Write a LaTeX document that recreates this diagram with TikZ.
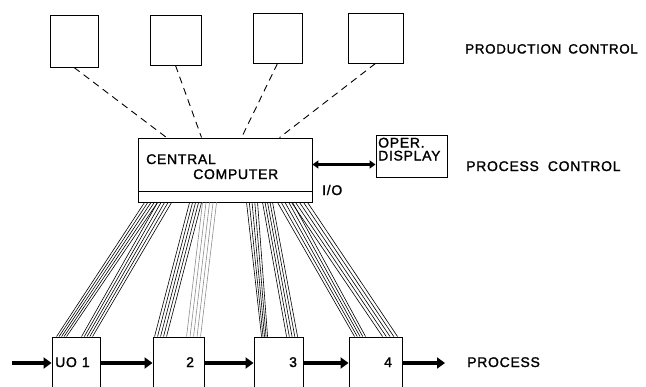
\documentclass[tikz,border=0pt]{standalone}
\usepackage{fontspec}
\setmainfont{Liberation Sans}[FakeBold=1.4,LetterSpace=5]
\usetikzlibrary{arrows.meta,calc}
\newcommand\wirebundle[6][black]{%
  \foreach \i in {0,...,4}{%
    \draw[wire,#1] ($(io.south west)+({#3+\i*(#4-#3)/4},0)$) -- ($(#2.north west)+({#5+\i*(#6-#5)/4},0)$);
  }%
}
\begin{document}
\begin{tikzpicture}[x=1pt,y=-1pt,
  box/.style={draw,line width=0.9pt,inner sep=0pt,fill=white},
  lbl/.style={anchor=west,inner sep=0pt,text height=10pt,text depth=0pt,font=\fontsize{14}{16}\selectfont},
  flow/.style={line width=3.5pt,-{Triangle[length=8pt,width=11pt]}},
  dbl/.style={line width=2.5pt,{Triangle[length=6pt,width=8pt]}-{Triangle[length=6pt,width=8pt]}},
  dsh/.style={line width=0.9pt,dash pattern=on 7pt off 5pt},
  wire/.style={line width=0.6pt}]
\useasboundingbox (0,0) rectangle (646,386);
\clip (0,0) rectangle (646,386);

% production control terminals
\node[box,minimum width=48pt,minimum height=52pt] (p1) at (74,41) {};
\node[box,minimum width=51pt,minimum height=50pt] (p2) at (175.5,40) {};
\node[box,minimum width=49pt,minimum height=50pt] (p3) at (277.5,38) {};
\node[box,minimum width=55pt,minimum height=50pt] (p4) at (375.5,38) {};

% central computer
\node[box,minimum width=174pt,minimum height=53pt] (comp) at (225,164.5) {};
\node[box,minimum width=174pt,minimum height=11pt] (io) at (225,196.5) {};
\node[box,minimum width=71pt,minimum height=42pt] (disp) at (411.5,156) {};

% process units
\node[box,minimum width=48pt,minimum height=52pt] (u1) at (76,363) {};
\node[box,minimum width=51pt,minimum height=52pt] (u2) at (178.5,363) {};
\node[box,minimum width=49pt,minimum height=52pt] (u3) at (278.5,363) {};
\node[box,minimum width=53pt,minimum height=52pt] (u4) at (375.5,363) {};

% dashed links
\draw[dsh] (p1.south) -- ($(comp.north west)+(29,0)$);
\draw[dsh] (p2.south) -- ($(comp.north west)+(64,0)$);
\draw[dsh] (p3.south) -- ($(comp.north west)+(104,0)$);
\draw[dsh] (p4.south) -- ($(comp.north west)+(142,0)$);

% wire bundles
\wirebundle{u1}{7}{20}{5}{15}
\wirebundle{u1}{20}{34}{30}{41}
\wirebundle{u2}{52}{64}{2}{14}
\wirebundle[black!45]{u2}{65}{79}{34}{48}
\wirebundle{u3}{109}{120}{8}{14}
\wirebundle{u3}{125}{135}{33}{44}
\wirebundle{u4}{140}{155}{6}{17}
\wirebundle{u4}{154}{170}{34}{49}

% operator display link
\draw[dbl] (comp.east) -- (comp.east -| disp.west);

% process flow
\coordinate (in) at (12,363);
\coordinate (out) at (445,363);
\draw[flow] (in) -- (u1.west);
\draw[flow] (u1.east) -- (u2.west);
\draw[flow] (u2.east) -- (u3.west);
\draw[flow] (u3.east) -- (u4.west);
\draw[flow] (u4.east) -- (out);

% texts
\node[lbl] (t1) at (146,159) {CENTRAL};
\node[lbl] (t2) at (193,174) {COMPUTER};
\node[lbl] (tio) at (322,190) {I/O};
\node[lbl] (to) at (378,142.5) {OPER.};
\node[lbl] (td) at (378,155.5) {DISPLAY};
\node[lbl,font=\fontsize{13.4}{16}\selectfont] (l1) at (465,48.5) {PRODUCTION\hspace{7pt}CONTROL};
\node[lbl] (l2) at (466,166) {PROCESS\hspace{9pt}CONTROL};
\node[lbl] (l3) at (467,362) {PROCESS};
\node[lbl] (n1) at (55,362) {UO\hspace{5pt}1};
\node[lbl] (n2) at (186,362) {2};
\node[lbl] (n3) at (289,362) {3};
\node[lbl] (n4) at (384,362) {4};
\end{tikzpicture}
\end{document}
